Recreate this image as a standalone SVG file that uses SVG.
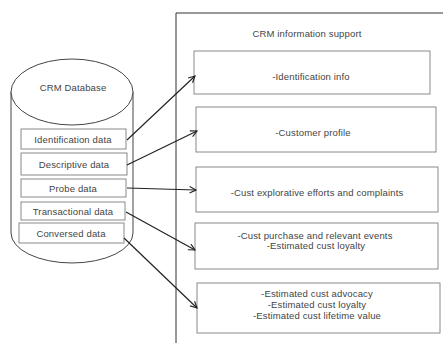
<svg xmlns="http://www.w3.org/2000/svg" width="443" height="343" viewBox="0 0 443 343">
<defs>
<style>
text{font-family:"Liberation Sans",Arial,sans-serif;font-size:9.5px;letter-spacing:0.15px;fill:#444;text-anchor:middle}
.box{fill:#fff;stroke:#8a8a8a;stroke-width:1}
.cyl{fill:#fff;stroke:#444;stroke-width:1}
.conn{stroke:#222;stroke-width:1.2;fill:none;marker-end:url(#ah)}
</style>
<marker id="ah" viewBox="0 0 10 10" refX="9" refY="5" markerWidth="8" markerHeight="8" markerUnits="userSpaceOnUse" orient="auto">
<path d="M1,1 L9,5 L1,9" fill="none" stroke="#222" stroke-width="1.4"/>
</marker>
</defs>
<rect width="443" height="343" fill="#fff"/>
<g id="frame">
<path d="M443,13 L176,13 L176,343" fill="none" stroke="#333" stroke-width="1"/>
<text x="307" y="37">CRM information support</text>
</g>
<g id="database">
<path class="cyl" d="M11,92 L11,233 A61,30 0 0 0 133,233 L133,92"/>
<ellipse class="cyl" cx="72" cy="92" rx="61" ry="33"/>
<text x="73" y="91">CRM Database</text>
</g>
<g id="identification-data"><rect class="box" x="21" y="129" width="105" height="20"/><text x="73" y="143">Identification data</text></g>
<g id="descriptive-data"><rect class="box" x="21" y="153" width="106" height="22"/><text x="74" y="168">Descriptive data</text></g>
<g id="probe-data"><rect class="box" x="21" y="179" width="105" height="18"/><text x="73" y="192">Probe data</text></g>
<g id="transactional-data"><rect class="box" x="21" y="202" width="104" height="18"/><text x="73" y="215">Transactional data</text></g>
<g id="conversed-data"><rect class="box" x="19" y="223" width="105" height="20"/><text x="71" y="237">Conversed data</text></g>
<g id="identification-info"><rect class="box" x="194" y="51" width="236" height="43"/><text x="311" y="80">-Identification info</text></g>
<g id="customer-profile"><rect class="box" x="196" y="107" width="240" height="45"/><text x="313" y="136">-Customer profile</text></g>
<g id="cust-explorative"><rect class="box" x="196" y="167" width="242" height="45"/><text x="317" y="196">-Cust explorative efforts and complaints</text></g>
<g id="cust-purchase"><rect class="box" x="195" y="223" width="243" height="46"/><text x="315" y="239">-Cust purchase and relevant events</text><text x="316" y="249">-Estimated cust loyalty</text></g>
<g id="cust-advocacy"><rect class="box" x="197" y="283" width="243" height="50"/><text x="317" y="297">-Estimated cust advocacy</text><text x="317" y="308">-Estimated cust loyalty</text><text x="317" y="319">-Estimated cust lifetime value</text></g>
<g id="connectors">
<line class="conn" x1="127" y1="140" x2="195" y2="76"/>
<line class="conn" x1="127" y1="165" x2="197" y2="131"/>
<line class="conn" x1="127" y1="188" x2="196" y2="190"/>
<line class="conn" x1="126" y1="212" x2="195" y2="250"/>
<line class="conn" x1="124" y1="238" x2="197" y2="308"/>
</g>
</svg>
